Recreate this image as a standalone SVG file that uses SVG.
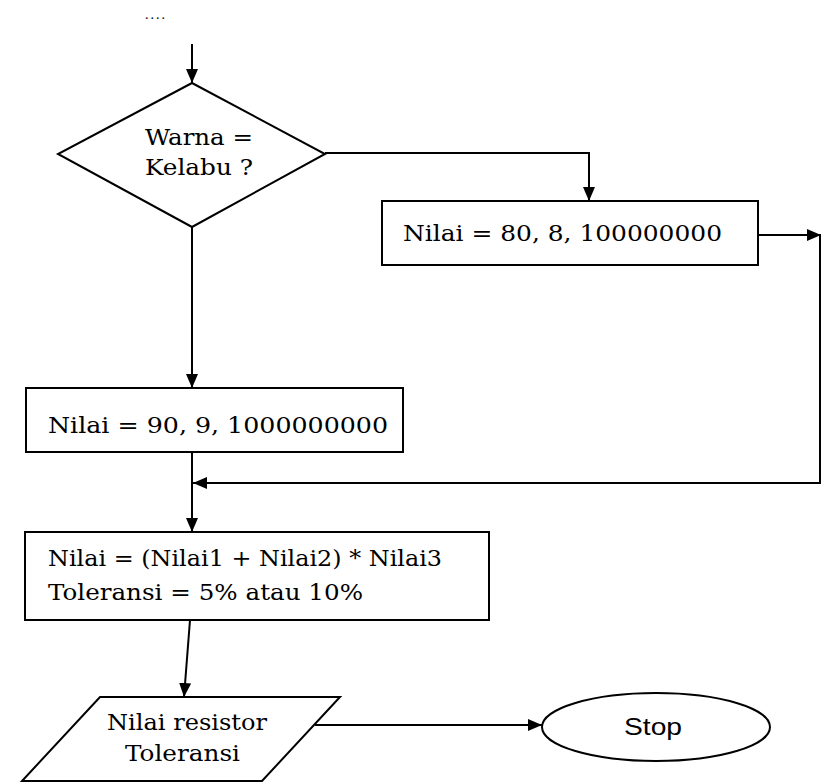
<svg xmlns="http://www.w3.org/2000/svg" width="822" height="782" viewBox="0 0 822 782">
<style>
.shape{fill:#fff;stroke:#000;stroke-width:2}
.conn{fill:none;stroke:#000;stroke-width:2}
.t{font-family:"DejaVu Serif","Liberation Serif",serif;font-size:22px;fill:#000}
.s{font-family:"Liberation Sans",Arial,sans-serif;font-size:24px;fill:#000}
</style>
<defs>
<marker id="ah" viewBox="0 0 14 12" refX="14" refY="6" markerWidth="14" markerHeight="12" markerUnits="userSpaceOnUse" orient="auto">
<path d="M0,0 L14,6 L0,12 Z" fill="#000"/>
</marker>
</defs>
<rect width="822" height="782" fill="#fff"/>
<text x="145" y="19" font-family="'Liberation Serif',serif" font-size="14" letter-spacing="2">....</text>
<g id="connectors">
<line class="conn" x1="192" y1="44" x2="192" y2="83" marker-end="url(#ah)"/>
<polyline class="conn" points="325,153 589,153 589,201" marker-end="url(#ah)"/>
<line class="conn" x1="192" y1="227" x2="192" y2="388" marker-end="url(#ah)"/>
<line class="conn" x1="758" y1="235" x2="821" y2="235" marker-end="url(#ah)"/>
<polyline class="conn" points="820,235 820,483 193,483" marker-end="url(#ah)"/>
<line class="conn" x1="192" y1="452" x2="192" y2="532" marker-end="url(#ah)"/>
<line class="conn" x1="190" y1="620" x2="184" y2="697" marker-end="url(#ah)"/>
<line class="conn" x1="315" y1="725" x2="542" y2="725" marker-end="url(#ah)"/>
</g>
<g id="decision">
<polygon class="shape" points="192,83 325,154 192,227 58,154"/>
<text class="t" x="145" y="145" textLength="108" lengthAdjust="spacingAndGlyphs">Warna =</text>
<text class="t" x="145" y="175" textLength="108" lengthAdjust="spacingAndGlyphs">Kelabu ?</text>
</g>
<g id="box80">
<rect class="shape" x="382" y="201" width="376" height="64"/>
<text class="t" x="403" y="241" textLength="319" lengthAdjust="spacingAndGlyphs">Nilai = 80, 8, 100000000</text>
</g>
<g id="box90">
<rect class="shape" x="26" y="388" width="377" height="64"/>
<text class="t" x="48" y="433" textLength="340" lengthAdjust="spacingAndGlyphs">Nilai = 90, 9, 1000000000</text>
</g>
<g id="calc">
<rect class="shape" x="25" y="532" width="464" height="88"/>
<text class="t" x="48" y="566" textLength="394" lengthAdjust="spacingAndGlyphs">Nilai = (Nilai1 + Nilai2) * Nilai3</text>
<text class="t" x="48" y="600" textLength="315" lengthAdjust="spacingAndGlyphs">Toleransi = 5% atau 10%</text>
</g>
<g id="output">
<polygon class="shape" points="100,697 340,697 262,781 22,781"/>
<text class="t" x="107" y="730" textLength="160" lengthAdjust="spacingAndGlyphs">Nilai resistor</text>
<text class="t" x="125" y="761" textLength="115" lengthAdjust="spacingAndGlyphs">Toleransi</text>
</g>
<g id="stop">
<ellipse class="shape" cx="656" cy="727" rx="114" ry="34"/>
<text class="s" x="624" y="735" textLength="58" lengthAdjust="spacingAndGlyphs">Stop</text>
</g>
</svg>
